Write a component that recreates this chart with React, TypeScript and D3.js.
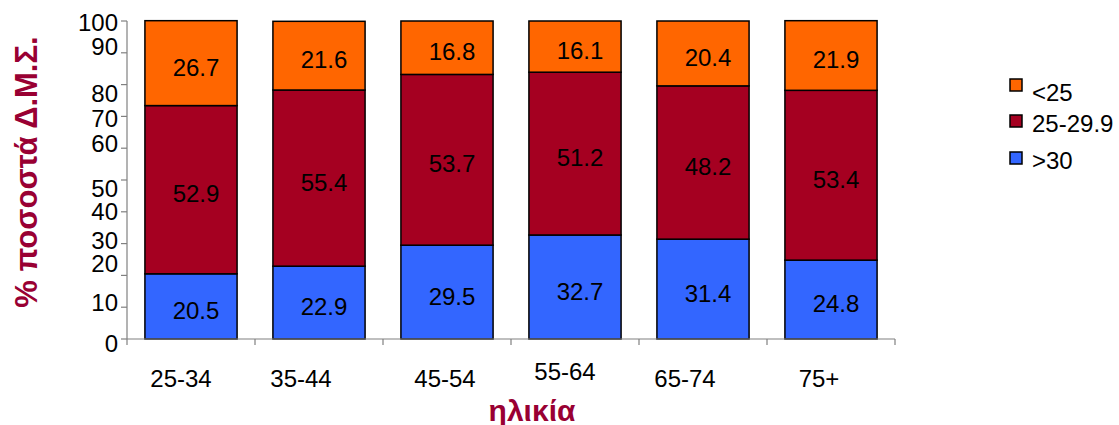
import React from "react";
import * as d3 from "d3";

const categories = ["25-34", "35-44", "45-54", "55-64", "65-74", "75+"];
const over30 = [20.5, 22.9, 29.5, 32.7, 31.4, 24.8];
const mid25to29 = [52.9, 55.4, 53.7, 51.2, 48.2, 53.4];
const under25 = [26.7, 21.6, 16.8, 16.1, 20.4, 21.9];
const yTicks = [0, 10, 20, 30, 40, 50, 60, 70, 80, 90, 100];

const seriesNames = [">30", "25-29.9", "<25"];
const seriesColors = ["#3366FF", "#A50021", "#FF6600"];
const legendOrder = ["<25", "25-29.9", ">30"];

// label nudges (style, old-Excel style jitter)
const yTickNudge = [4, -4.5, -11.5, -3.5, -0.5, 8.5, -4.5, 2.5, 8.5, -6.5, 1.5];
const xLabelNudgeX = [-10, -18, -2, -10, -18, -12];
const xLabelNudgeY = [0, 0, 0, -7, 0, 0];
const legendTextNudge = [7, 2, 2];

const W = 1119;
const H = 425;
const FONT = "'Liberation Sans', Arial, Helvetica, sans-serif";
const TITLE_COLOR = "#990033";

export default function App() {
  const x = d3
    .scaleBand<string>()
    .domain(categories)
    .range([127, 895])
    .paddingInner(0.28)
    .paddingOuter(0.14);
  const y = d3.scaleLinear().domain([0, 100]).range([339, 21]);

  const rows = categories.map((c, i) => ({
    cat: c,
    ">30": over30[i],
    "25-29.9": mid25to29[i],
    "<25": under25[i],
  }));
  const stacked = d3.stack<any>().keys(seriesNames)(rows);

  const step = x.step();

  return (
    <svg
      width={W}
      height={H}
      style={{ position: "absolute", left: 0, top: 0, background: "#fff" }}
      fontFamily={FONT}
    >
      {/* bars */}
      {stacked.map((layer, si) => (
        <g key={layer.key}>
          {layer.map((d, i) => (
            <rect
              key={i}
              x={x(categories[i])!}
              y={y(d[1])}
              width={x.bandwidth()}
              height={y(d[0]) - y(d[1])}
              fill={seriesColors[si]}
              stroke="#000"
              strokeWidth={1.5}
            />
          ))}
        </g>
      ))}
      {/* data labels */}
      {stacked.map((layer) => (
        <g key={"l" + layer.key}>
          {layer.map((d, i) => (
            <text
              key={i}
              x={x(categories[i])! + x.bandwidth() / 2 + 5}
              y={(y(d[0]) + y(d[1])) / 2 + 12.5}
              textAnchor="middle"
              fontSize={24}
              fill="#000"
            >
              {(d[1] - d[0]).toFixed(1)}
            </text>
          ))}
        </g>
      ))}
      {/* y axis */}
      <line x1={127} x2={127} y1={y(100)} y2={y(0)} stroke="#808080" strokeWidth={1.2} />
      {yTicks.map((t, i) => (
        <g key={t}>
          <line x1={121} x2={127} y1={y(t)} y2={y(t)} stroke="#808080" strokeWidth={1.2} />
          <text x={118} y={y(t) + 8.5 + yTickNudge[i]} textAnchor="end" fontSize={24} fill="#000">
            {t}
          </text>
        </g>
      ))}
      {/* x axis */}
      <line x1={127} x2={895} y1={y(0)} y2={y(0)} stroke="#808080" strokeWidth={1.2} />
      {d3.range(categories.length + 1).map((k) => (
        <line
          key={k}
          x1={127 + k * step}
          x2={127 + k * step}
          y1={y(0)}
          y2={y(0) + 6}
          stroke="#808080"
          strokeWidth={1.2}
        />
      ))}
      {categories.map((c, i) => (
        <text
          key={c}
          x={x(c)! + x.bandwidth() / 2 + xLabelNudgeX[i]}
          y={387 + xLabelNudgeY[i]}
          textAnchor="middle"
          fontSize={24}
          fill="#000"
        >
          {c}
        </text>
      ))}
      {/* titles */}
      <text
        transform={`translate(37, 172) rotate(-90)`}
        textAnchor="middle"
        fontSize={31}
        fontWeight="bold"
        fill={TITLE_COLOR}
      >
        % ποσοστά Δ.Μ.Σ.
      </text>
      <text x={532} y={421} textAnchor="middle" fontSize={30} fontWeight="bold" fill={TITLE_COLOR}>
        ηλικία
      </text>
      {/* legend */}
      {legendOrder.map((name, i) => {
        const ci = seriesNames.indexOf(name);
        const sy = [79, 115, 152][i];
        return (
          <g key={name}>
            <rect x={1010} y={sy} width={12} height={12} fill={seriesColors[ci]} stroke="#000" strokeWidth={1.5} />
            <text x={1032} y={sy + 15 + legendTextNudge[i]} fontSize={24} fill="#000">
              {name}
            </text>
          </g>
        );
      })}
    </svg>
  );
}
